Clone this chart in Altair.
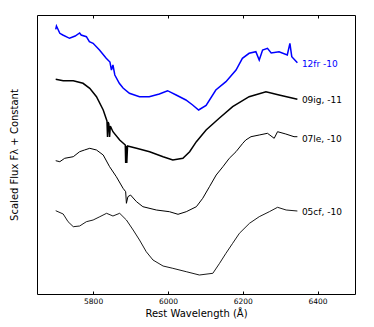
import altair as alt
import pandas as pd

# ---- data (flux in arbitrary scaled units) ----
wl_12fr = [5700, 5702, 5711, 5719, 5737, 5752, 5764, 5768, 5782, 5790, 5800, 5817, 5835, 5845, 5849,
           5853, 5858, 5870, 5880, 5897, 5924, 5950, 5977, 5999, 6022, 6048, 6066, 6082, 6102,
           6128, 6155, 6182, 6199, 6217, 6235, 6244, 6253, 6266, 6276, 6297, 6319, 6326, 6331, 6346]
fx_12fr = [264.7, 268, 260.7, 259, 255.7, 258, 261, 259, 257.3, 252.3, 250.7, 244, 235.7, 232, 224,
           229, 219, 210.7, 206, 200.7, 197.3, 197.3, 200, 203.3, 199, 194, 189, 184, 188.5,
           204, 212.3, 224, 235.7, 240.7, 242.3, 234, 244, 245.7, 241, 242.3, 239, 250.7, 237.3, 231.3]

wl_09ig = [5700, 5720, 5747, 5773, 5791, 5809, 5827, 5837, 5838.5, 5840, 5842, 5844, 5846, 5853,
           5871, 5886, 5887, 5889, 5890, 5892, 5916, 5951, 5987, 6013, 6040, 6058, 6076, 6102,
           6137, 6173, 6217, 6262, 6297, 6346]
fx_09ig = [214.7, 213.3, 213.3, 210.7, 205.7, 197.3, 184, 173, 157, 172, 170, 157, 168, 162.3,
           154, 149, 131, 148, 131, 148, 145.7, 142.3, 137.3, 134, 135.7, 142.3, 152.3, 164,
           175.7, 187.3, 197.3, 202.3, 199, 194.7]

wl_07le = [5700, 5711, 5724, 5747, 5764, 5777, 5791, 5809, 5827, 5844, 5862, 5880, 5887, 5889,
           5893, 5900, 5916, 5933, 5969, 6004, 6027, 6049, 6076, 6093, 6111, 6129, 6147, 6164,
           6182, 6200, 6208, 6222, 6244, 6266, 6284, 6293, 6315, 6337, 6346]
fx_07le = [133.3, 132.3, 135.7, 137.3, 142.3, 144, 145.7, 144, 139, 127.3, 117.3, 105.7, 102.3, 90.7,
           97.3, 99, 92.3, 87.3, 84, 82.3, 79.7, 82.3, 87.3, 95.7, 107.3, 119, 127.3, 135.7,
           142.3, 150.7, 154, 157.3, 159, 160.7, 155.7, 162.3, 160, 157.3, 157.3]

wl_05cf = [5700, 5720, 5733, 5747, 5764, 5782, 5800, 5818, 5836, 5853, 5871, 5889, 5907, 5924,
           5942, 5960, 5987, 6013, 6049, 6084, 6120, 6138, 6155, 6173, 6191, 6218, 6244, 6271,
           6293, 6316, 6346]
fx_05cf = [83.3, 80, 72.3, 67.3, 68, 72.3, 74, 77.3, 80.7, 78, 80.7, 74, 64, 54,
           42.3, 34, 28, 25.7, 22.3, 19, 20.7, 30.7, 40.7, 50.7, 60.7, 70.7, 77.3, 82.3,
           86.7, 84, 83]

label_text = ["12fr -10", "09ig, -11", "07le, -10", "05cf, -10"]
label_wl = [6358, 6358, 6358, 6358]
label_fx = [230, 194, 154.7, 82.3]

x_ticks = [5800, 6000, 6200, 6400]

FONT = "DejaVu Sans"
xs = alt.Scale(domain=[5650, 6500], nice=False, zero=False)
ys = alt.Scale(domain=[0, 279], nice=False, zero=False)

series = [
    (wl_12fr, fx_12fr, "#0000ff", 1.5),
    (wl_09ig, fx_09ig, "#000000", 1.5),
    (wl_07le, fx_07le, "#000000", 1.0),
    (wl_05cf, fx_05cf, "#000000", 0.9),
]

main_x_axis = alt.Axis(values=x_ticks, format="d", title="Rest Wavelength (Å)",
                       labelFontSize=7.5, labelFont=FONT, titleFont=FONT, titleFontSize=10,
                       titleFontWeight="normal", tickSize=0, domain=False, grid=False,
                       labelPadding=3, titlePadding=4, labelColor="#000", titleColor="#000")
y_axis = alt.Axis(labels=False, ticks=False, domain=False, grid=False,
                  title="Scaled Flux Fλ + Constant", titleFont=FONT, titleFontSize=10,
                  titleFontWeight="normal", titlePadding=18, titleColor="#000")

layers = []
for i, (wl, fx, color, w) in enumerate(series):
    df = pd.DataFrame({"wl": wl, "flux": fx})
    layers.append(
        alt.Chart(df).mark_line(color=color, strokeWidth=w, interpolate="linear").encode(
            x=alt.X("wl:Q", scale=xs, axis=main_x_axis if i == 0 else None),
            y=alt.Y("flux:Q", scale=ys, axis=y_axis if i == 0 else None),
        )
    )

lab_df = pd.DataFrame({"t": label_text, "wl": label_wl, "flux": label_fx,
                       "c": ["12fr", "09ig", "07le", "05cf"]})
labels = alt.Chart(lab_df).mark_text(align="left", baseline="middle", font=FONT, fontSize=9).encode(
    x=alt.X("wl:Q", scale=xs, axis=None),
    y=alt.Y("flux:Q", scale=ys, axis=None),
    text="t:N",
    color=alt.Color("c:N", scale=alt.Scale(domain=["12fr", "09ig", "07le", "05cf"],
                                           range=["#0000ff", "#000000", "#000000", "#000000"]),
                    legend=None),
)

tick_df = pd.DataFrame({"wl": x_ticks, "flux": [0, 0, 0, 0]})
ticks_bottom = alt.Chart(tick_df).mark_point(opacity=0).encode(
    x=alt.X("wl:Q", scale=xs, axis=alt.Axis(orient="bottom", values=x_ticks, labels=False,
                                            domain=False, grid=False, tickSize=3, offset=-3,
                                            title=None, tickColor="#000")),
    y=alt.Y("flux:Q", scale=ys, axis=None),
)
ticks_top = alt.Chart(tick_df).mark_point(opacity=0).encode(
    x=alt.X("wl:Q", scale=xs, axis=alt.Axis(orient="top", values=x_ticks, labels=False,
                                            domain=False, grid=False, tickSize=3, offset=-3,
                                            title=None, tickColor="#000")),
    y=alt.Y("flux:Q", scale=ys, axis=None),
)

chart = alt.layer(*layers, labels, ticks_bottom, ticks_top).resolve_axis(
    x="independent", y="independent"
).properties(
    width=318, height=279,
    autosize=alt.AutoSizeParams(type="none"),
    padding={"left": 29, "top": 7, "right": 10, "bottom": 25},
    background="white",
).configure_view(stroke="#000", strokeWidth=1)

chart.save("out.html", embed_options={"renderer": "svg", "actions": False})
